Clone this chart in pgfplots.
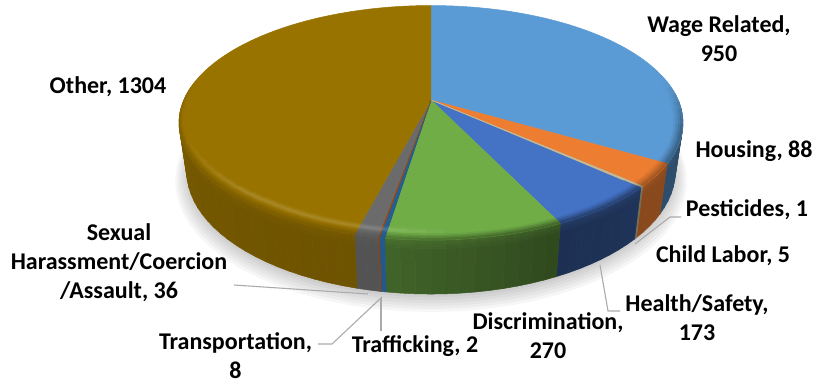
\documentclass[border=0pt]{standalone}
\usepackage{pgfplots}
\usepackage{fontspec}
\setmainfont{Carlito}
\pgfplotsset{compat=1.18}
\tikzset{lab/.style={font=\fontsize{24}{29}\selectfont\bfseries, align=center, text=black, inner sep=0pt}}

% Complaint counts by category: value, colour, wall shade at start and end of the slice (percent)
\definecolor{cWage}{HTML}{5B9BD5}
\definecolor{cHousing}{HTML}{ED7D31}
\definecolor{cPest}{HTML}{B5AFA0}
\definecolor{cChild}{HTML}{C8B890}
\definecolor{cHealth}{HTML}{4472C4}
\definecolor{cDisc}{HTML}{70AD47}
\definecolor{cTransp}{HTML}{255E91}
\definecolor{cTraff}{HTML}{9E480E}
\definecolor{cSex}{HTML}{6B6B6B}
\definecolor{cOther}{HTML}{997300}
\newcommand{\pieData}[1]{%
  #1{950}{cWage}{50}{50}%
  #1{88}{cHousing}{58}{58}%
  #1{1}{cPest}{60}{60}%
  #1{5}{cChild}{60}{60}%
  #1{173}{cHealth}{45}{42}%
  #1{270}{cDisc}{42}{58}%
  #1{8}{cTransp}{95}{95}%
  #1{2}{cTraff}{90}{90}%
  #1{36}{cSex}{78}{78}%
  #1{1304}{cOther}{72}{85}%
}
\def\pieTotal{2837}

% Perspective of the disc: angle clockwise from the back, radius factor, depth down the wall
\newcommand{\project}[3]{%
  \pgfmathsetmacro{\pS}{sin(#1)}%
  \pgfmathsetmacro{\pT}{-cos(#1)}%
  \pgfmathsetmacro{\pQ}{1/(1-0.194*#2*\pT)}%
  \pgfmathsetmacro{\px}{431+(1-0.03*#3)*247.2*#2*\pS*\pQ}%
  \pgfmathsetmacro{\py}{100+47*#3*\pQ+(1-0.03*#3)*112.8*#2*\pT*\pQ}%
}
\newcommand{\addpt}[3]{\project{#1}{#2}{#3}\xdef\ptlist{\ptlist (\px,\py)}}
\newcommand{\emitplot}[1]{%
  \edef\doit{\noexpand\addplot[draw={#1},fill={#1},line width=0.5pt,forget plot] coordinates {\ptlist};}%
  \doit}
% One closed quadrilateral between two angles and two radius/depth pairs
\newcommand{\band}[7]{%
  \gdef\ptlist{}%
  \addpt{#1}{#3}{#4}\addpt{#2}{#3}{#4}\addpt{#2}{#5}{#6}\addpt{#1}{#5}{#6}\addpt{#1}{#3}{#4}%
  \emitplot{#7}}
\newcommand{\sliceangles}[1]{%
  \pgfmathsetmacro{\aS}{\cum/\pieTotal*360}%
  \pgfmathsetmacro{\nextcum}{\cum+#1}%
  \pgfmathsetmacro{\aE}{\nextcum/\pieTotal*360}%
  \xdef\cum{\nextcum}%
}
% Flat top of a slice
\newcommand{\topface}[4]{%
  \sliceangles{#1}%
  \xdef\ptlist{(431,100)}%
  \pgfmathtruncatemacro{\nn}{max(1,ceil((\aE-\aS)/2))}%
  \foreach \i in {0,...,\nn}{%
    \pgfmathsetmacro{\th}{\aS+(\aE-\aS)*\i/\nn}%
    \addpt{\th}{1}{0}}%
  \emitplot{#2}}
\newcommand{\thintop}[4]{%
  \ifnum#1<10\relax\topface{#1}{#2}{#3}{#4}\else\sliceangles{#1}\fi}
% Outer wall of a slice, shaded along its arc and easing in below the rim
\newcommand{\wallface}[4]{%
  \sliceangles{#1}%
  \pgfmathsetmacro{\lo}{max(\aS,85)}%
  \pgfmathsetmacro{\hi}{min(\aE,275)}%
  \pgfmathtruncatemacro{\vis}{\hi>\lo}%
  \ifnum\vis=1\relax
    \pgfmathtruncatemacro{\nn}{max(1,ceil((\hi-\lo)/3))}%
    \foreach \i in {1,...,\nn}{%
      \pgfmathsetmacro{\thA}{\lo+(\hi-\lo)*(\i-1)/\nn}%
      \pgfmathsetmacro{\thB}{\lo+(\hi-\lo)*\i/\nn}%
      \pgfmathsetmacro{\fr}{#3+(#4-#3)*(0.5*(\thA+\thB)-\aS)/(\aE-\aS)}%
      \band{\thA}{\thB}{1}{0.16}{1}{1}{#2!\fr!black}%
      \foreach \j in {0,...,3}{%
        \pgfmathsetmacro{\fA}{0.04*\j}%
        \pgfmathsetmacro{\fB}{0.04*(\j+1)}%
        \pgfmathsetmacro{\frT}{100-(100-\fr)*(0.84+0.04*\j)}%
        \band{\thA}{\thB}{1}{\fA}{1}{\fB}{#2!\frT!black}%
      }%
    }%
  \fi}
% Rounded rim at the edge of the top face: a soft highlight, then a fall into shade
\newcommand{\rimface}[4]{%
  \sliceangles{#1}%
  \pgfmathsetmacro{\lo}{max(\aS,80)}%
  \pgfmathsetmacro{\hi}{min(\aE,280)}%
  \pgfmathtruncatemacro{\vis}{\hi>\lo}%
  \ifnum\vis=1\relax
    \pgfmathtruncatemacro{\nn}{max(1,ceil((\hi-\lo)/4))}%
    \foreach \i in {1,...,\nn}{%
      \pgfmathsetmacro{\thA}{\lo+(\hi-\lo)*(\i-1)/\nn}%
      \pgfmathsetmacro{\thB}{\lo+(\hi-\lo)*\i/\nn}%
      \pgfmathsetmacro{\thM}{0.5*(\thA+\thB)}%
      \pgfmathsetmacro{\fr}{#3+(#4-#3)*(\thM-\aS)/(\aE-\aS)}%
      \pgfmathsetmacro{\hl}{16*min(1,max(0,(\thM-175)/15))*min(1,max(0,(252-\thM)/30))}%
      \pgfmathsetmacro{\gg}{min(1,max(0,(\thM-80)/25))*min(1,max(0,(280-\thM)/25))}%
      \pgfmathsetmacro{\rw}{0.93+0.045*min(1,max(0,(\thM-215)/45))}%
      \foreach \j in {0,...,7}{%
        \pgfmathsetmacro{\rA}{\rw+(1-\rw)*\j/8}%
        \pgfmathsetmacro{\rB}{\rw+(1-\rw)*(\j+1)/8}%
        \pgfmathsetmacro{\uu}{(\j+0.5)/8}%
        \pgfmathsetmacro{\wh}{100-\hl*max(0,1-abs(\uu-0.3)/0.3)}%
        \pgfmathsetmacro{\bk}{100-(100-\fr)*0.8*\gg*max(0,(\uu-0.45)/0.55)^1.2}%
        \band{\thA}{\thB}{\rA}{0}{\rB}{0}{#2!\wh!white!\bk!black}%
      }%
    }%
  \fi}
% Soft shadow on the ground below the disc
\newcommand{\groundshadow}[2]{%
  \gdef\ptlist{}%
  \foreach \th in {0,5,...,360}{\addpt{\th}{#1}{#2}}%
  \edef\doit{\noexpand\addplot[draw=none,fill=black,fill opacity=0.035,forget plot] coordinates {\ptlist};}%
  \doit}

\begin{document}
\begin{tikzpicture}
\begin{axis}[
  at={(0pt,0pt)}, anchor=south west,
  scale only axis, width=814pt, height=383pt,
  xmin=0, xmax=814, ymin=0, ymax=383, y dir=reverse,
  hide axis, clip=false,
]
  % shadow
  \groundshadow{1.05}{1.16}
  \groundshadow{1.04}{1.14}
  \groundshadow{1.03}{1.12}
  \groundshadow{1.02}{1.10}
  \groundshadow{1.01}{1.08}
  \groundshadow{1.00}{1.06}
  % walls, then top faces, then the rim
  \gdef\cum{0}\pieData{\wallface}
  \gdef\cum{0}\pieData{\topface}
  \gdef\cum{0}\pieData{\thintop}
  \gdef\cum{0}\pieData{\rimface}

  % leader lines
  \addplot[draw=black!33,line width=1.1pt,forget plot] coordinates {(635,244) (670,217) (681,217)};
  \addplot[draw=black!33,line width=1.1pt,forget plot] coordinates {(600,265) (608,311) (620,311)};
  \addplot[draw=black!33,line width=1.1pt,forget plot] coordinates {(382,297) (332,344) (318,344)};
  \addplot[draw=black!33,line width=1.1pt,forget plot] coordinates {(381,298) (381,331)};
  \addplot[draw=black!33,line width=1.1pt,forget plot] coordinates {(234,285) (368,294)};

  % data labels
  \node[lab] at (axis cs:719,39) {Wage Related,\\950};
  \node[lab] at (axis cs:754,151) {Housing, 88};
  \node[lab] at (axis cs:747,210) {Pesticides, 1};
  \node[lab] at (axis cs:723,256) {Child Labor, 5};
  \node[lab] at (axis cs:697,318) {Health/Safety,\\173};
  \node[lab] at (axis cs:548,336) {Discrimination,\\270};
  \node[lab] at (axis cs:415,346) {Trafficking, 2};
  \node[lab] at (axis cs:235.5,356) {Transportation,\\8};
  \node[lab] at (axis cs:119,263) {Sexual\\Harassment/Coercion\\/Assault, 36};
  \node[lab] at (axis cs:108,87) {Other, 1304};
\end{axis}
\path (0pt,0pt) rectangle (814pt,383pt);
\end{tikzpicture}
\end{document}
